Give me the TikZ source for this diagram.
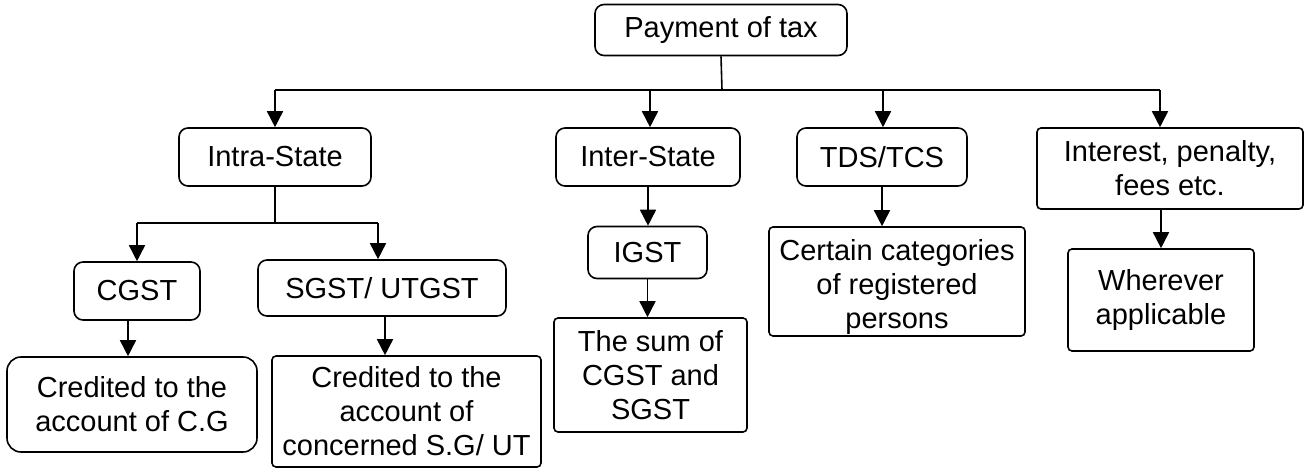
\documentclass[tikz,border=0pt]{standalone}
\usepackage{fontspec}
\setmainfont{Liberation Sans}
\usetikzlibrary{arrows.meta}
\begin{document}
\begin{tikzpicture}[x=1pt,y=-1pt,
  box/.style={draw,line width=1.6pt,inner sep=0pt,align=center,font=\fontsize{29}{34}\selectfont},
  rbox/.style={box,rounded corners=9pt},
  sbox/.style={box,rounded corners=4pt},
  lbox/.style={box,rounded corners=14pt},
  conn/.style={line width=1.6pt},
  arr/.style={conn,-{Triangle[width=16pt,length=16pt]}}]
\useasboundingbox (0,0) rectangle (1308,468);
% nodes
\node[rbox,minimum width=252pt,minimum height=51pt] (pay) at (721,30) {Payment of tax};
\node[rbox,minimum width=192pt,minimum height=58pt] (intra) at (275,157) {Intra-State};
\node[rbox,minimum width=184pt,minimum height=58pt] (inter) at (648,157) {Inter-State};
\node[rbox,minimum width=170pt,minimum height=58pt] (tds) at (882,157) {TDS/TCS};
\node[sbox,minimum width=266pt,minimum height=81pt] (int) at (1170,168.5) {Interest, penalty,\\fees etc.};
\node[rbox,minimum width=126pt,minimum height=58pt] (cgst) at (137,291) {CGST};
\node[rbox,minimum width=248pt,minimum height=56pt] (sgst) at (382,288) {SGST/ UTGST};
\node[rbox,minimum width=119pt,minimum height=52pt] (igst) at (647.5,252.5) {IGST};
\node[lbox,minimum width=250pt,minimum height=95pt] (cg) at (132,404.5) {Credited to the\\account of C.G};
\node[sbox,minimum width=269pt,minimum height=111pt] (sg) at (406.5,411.5) {Credited to the\\account of\\concerned S.G/ UT};
\node[sbox,minimum width=193pt,minimum height=114pt] (sum) at (650.5,375) {The sum of\\CGST and\\SGST};
\node[sbox,minimum width=256pt,minimum height=109pt] (cert) at (897,281.5) {};
\node[inner sep=0pt,align=center,anchor=north,font=\fontsize{29}{34}\selectfont] (certtext) at (897,239) {Certain categories\\of registered\\persons};
\node[sbox,minimum width=186pt,minimum height=102pt] (wh) at (1161,300) {Wherever\\applicable};
% junctions
\coordinate (top) at (722,90);
\coordinate (b1) at (275,90);
\coordinate (b2) at (650,90);
\coordinate (b3) at (883,90);
\coordinate (b4) at (1160,90);
\coordinate (j) at (275,223);
\coordinate (j1) at (137,223);
\coordinate (j2) at (378,223);
% connectors
\draw[conn] (pay.south) -- (top);
\draw[conn] (b1) -- (b4);
\draw[arr] (b1) -- (intra.north);
\draw[arr] (b2) -- (b2 |- inter.north);
\draw[arr] (b3) -- (b3 |- tds.north);
\draw[arr] (b4) -- (b4 |- int.north);
\draw[conn] (intra.south) -- (j);
\draw[conn] (j1) -- (j2);
\draw[arr] (j1) -- (cgst.north);
\draw[arr] (j2) -- (j2 |- sgst.north);
\draw[arr] ([xshift=-9pt]cgst.south) -- ([xshift=-9pt]cgst.south |- cg.north);
\draw[arr] (385,316) -- (385,0 |- sg.north);
\draw[arr] (inter.south) -- (inter.south |- igst.north);
\draw[arr] (igst.south) -- (igst.south |- sum.north);
\draw[arr] (tds.south) -- (tds.south |- cert.north);
\draw[arr] (1161,209) -- (wh.north);
\end{tikzpicture}
\end{document}
